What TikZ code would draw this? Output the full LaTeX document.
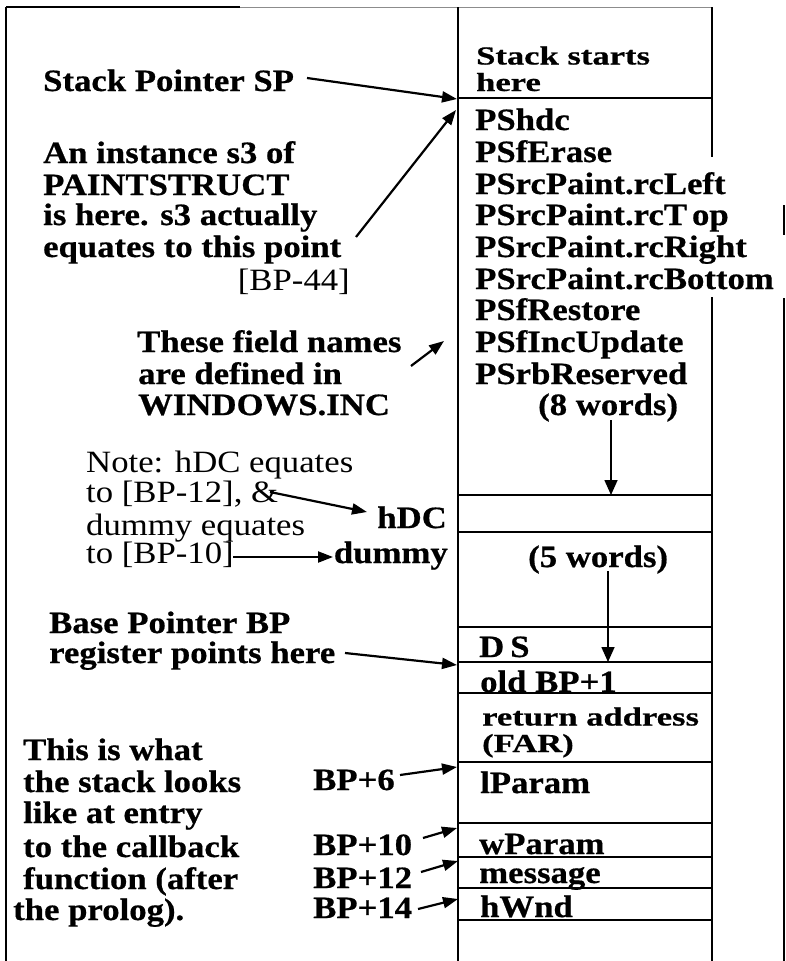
\documentclass[tikz,border=0pt]{standalone}
\usepackage{fontspec}
\setmainfont[FakeStretch=1.12,BoldFeatures={FakeBold=0.6}]{Liberation Serif}
\newfontfamily\tightserif[FakeStretch=1.33,BoldFeatures={FakeBold=0.6}]{Liberation Serif}
\usetikzlibrary{arrows.meta}
\begin{document}
\begin{tikzpicture}[x=1pt,y=-1pt,
  bt/.style={anchor=base west,inner sep=0pt,font=\fontsize{31}{31}\selectfont\bfseries},
  rt/.style={anchor=base west,inner sep=0pt,font=\fontsize{31}{31}\selectfont},
  twoline/.style={align=left,font=\tightserif\fontsize{26}{26.5}\selectfont\bfseries},
  frameline/.style={line width=2.4pt},
  rowline/.style={line width=2pt},
  arr/.style={line width=2.2pt,-{Triangle[length=15pt,width=11pt]}},
  varr/.style={line width=1.6pt,-{Triangle[length=15pt,width=13pt]}}]
\fill[white] (0,0) rectangle (786,961);
\useasboundingbox (0,0) rectangle (786,961);

% outer frame (scan edges)
\draw[frameline] (6,7) -- (6,961);
\draw[rowline] (6,7) -- (240,7);
\draw[line width=1pt,black!45] (240,7) -- (712,7);
\draw[frameline] (784,205) -- (784,235);
\draw[frameline] (784,298) -- (784,961);

% stack column
\draw[frameline] (458,7) -- (458,961);
\draw[frameline] (712,7) -- (712,157);
\draw[frameline] (712,297) -- (712,961);
\foreach \yy in {98,495,532,627,662,693,762,823,857,888,920}
  \draw[rowline] (458,\yy) -- (712,\yy);

% stack contents (base anchor of a two-line node = last line)
\node[bt,twoline] (ss) at (476,91) {Stack starts\\here};
\node[bt] (ps1) at (475,130) {PShdc};
\node[bt] (ps2) at (475,162) {PSfErase};
\node[bt] (ps3) at (475,194) {PSrcPaint.rcLeft};
\node[bt] (ps4) at (475,225) {PSrcPaint.rcT\kern5pt op};
\node[bt] (ps5) at (475,257) {PSrcPaint.rcRight};
\node[bt] (ps6) at (475,289) {PSrcPaint.rcBottom};
\node[bt] (ps7) at (475,320) {PSfRestore};
\node[bt] (ps8) at (475,352) {PSfIncUpdate};
\node[bt] (ps9) at (475,384) {PSrbReserved};
\node[bt] (w8) at (538,415) {(8 words)};
\node[bt] (w5) at (528,567) {(5 words)};
\node[bt] (ds) at (479,657) {D\kern6pt S};
\node[bt] (obp) at (480,692) {old BP+1};
\node[bt,twoline] (ret) at (482,752) {return address\\(FAR)};
\node[bt] (lp) at (480,793) {lParam};
\node[bt] (wp) at (479,854) {wParam};
\node[bt] (msg) at (479,883) {message};
\node[bt] (hw) at (480,917) {hWnd};

% left annotations
\node[bt] (sp) at (43,91) {Stack Pointer SP};
\node[bt] (in1) at (43,163) {An instance s3 of};
\node[bt] (in2) at (43,195) {PAINTSTRUCT};
\node[bt] (in3) at (43,225) {is here. s3 actually};
\node[bt] (in4) at (43,257) {equates to this point};
\node[rt,anchor=base east] (in5) at (350,290) {[BP-44]};
\node[bt] (fn1) at (137,352) {These field names};
\node[bt] (fn2) at (138,384) {are defined in};
\node[bt] (fn3) at (138,415) {WINDOWS.INC};
\node[rt] (nt1) at (86,472) {Note: hDC equates};
\node[rt] (nt2) at (86,502) {to [BP-12], \&};
\node[rt] (nt3) at (86,535) {dummy equates};
\node[rt] (nt4) at (86,563) {to [BP-10]};
\node[bt,anchor=base east] (hdc) at (447,528) {hDC};
\node[bt,anchor=base east] (dum) at (448,563) {dummy};
\node[bt] (bp1) at (49,633) {Base Pointer BP};
\node[bt] (bp2) at (49,663) {register points here};
\node[bt] (th1) at (23,760) {This is what};
\node[bt] (th2) at (23,792) {the stack looks};
\node[bt] (th3) at (23,823) {like at entry};
\node[bt] (th4) at (23,857) {to the callback};
\node[bt] (th5) at (23,889) {function (after};
\node[bt] (th6) at (13,920) {the prolog).};
\node[bt] (b6) at (313,790) {BP+6};
\node[bt] (b10) at (313,855) {BP+10};
\node[bt] (b12) at (313,888) {BP+12};
\node[bt] (b14) at (313,918) {BP+14};

% arrow ends
\coordinate (spT) at (307,78);   \coordinate (spH) at (457,99);
\coordinate (s3T) at (356,237);  \coordinate (s3H) at (456,110);
\coordinate (fnT) at (411,366);  \coordinate (fnH) at (444,341);
\coordinate (hdT) at (270,492);  \coordinate (hdH) at (367,512);
\coordinate (duT) at (233,557);  \coordinate (duH) at (333,557);
\coordinate (w8T) at (611,420);  \coordinate (w8H) at (611,495);
\coordinate (w5T) at (608,571);  \coordinate (w5H) at (608,662);
\coordinate (bpT) at (345,653);  \coordinate (bpH) at (457,665);
\coordinate (b6T) at (400,775);  \coordinate (b6H) at (457,767);
\coordinate (b10T) at (423,838); \coordinate (b10H) at (457,828);
\coordinate (b12T) at (421,872); \coordinate (b12H) at (458,861);
\coordinate (b14T) at (418,909); \coordinate (b14H) at (458,899);

\draw[arr] (spT) -- (spH);
\draw[arr] (s3T) -- (s3H);
\draw[arr] (fnT) -- (fnH);
\draw[arr] (hdT) -- (hdH);
\draw[arr] (duT) -- (duH);
\draw[varr] (w8T) -- (w8H);
\draw[varr] (w5T) -- (w5H);
\draw[arr] (bpT) -- (bpH);
\draw[arr] (b6T) -- (b6H);
\draw[arr] (b10T) -- (b10H);
\draw[arr] (b12T) -- (b12H);
\draw[arr] (b14T) -- (b14H);
\end{tikzpicture}
\end{document}
